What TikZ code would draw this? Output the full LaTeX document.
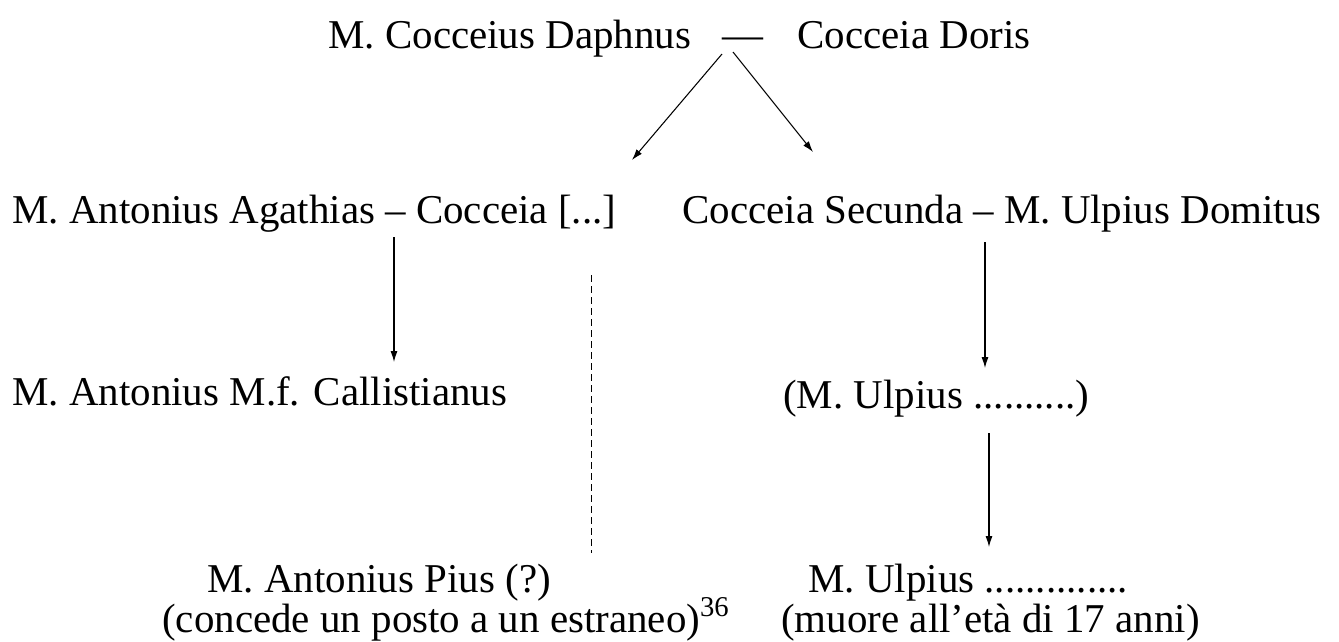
\documentclass[tikz,border=0pt]{standalone}
\usepackage{fontspec}
\setmainfont{Liberation Serif}
\usetikzlibrary{arrows.meta}

\begin{document}
\begin{tikzpicture}[x=0.2mm, y=-0.2mm,
    person/.style={anchor=base west, inner sep=0pt, font=\fontsize{23.3}{27}\selectfont},
    descent/.style={-{Latex[length=2.2mm,width=1.4mm]}, line width=0.6pt},
    uncertain/.style={line width=0.5pt, dash pattern=on 1.3mm off 0.9mm}]
    \useasboundingbox (0,0) rectangle (1339,641);

    % First generation
    \node[person] (daphnus) at (328,48) {M. Cocceius Daphnus};
    \node[person] (wed) at (722,48) {\textemdash};
    \node[person] (doris) at (797,48) {Cocceia Doris};

    % Daughters and husbands
    \node[person] (agathias) at (12,223) {M. Antonius Agathias -- Cocceia [...]};
    \node[person] (secunda) at (682,223) {Cocceia Secunda -- M. Ulpius Domitus};

    % Grandchildren
    \node[person] (callist) at (12,405) {M. Antonius M.f. Callistianus};
    \node[person] (ulpius) at (783,408) {(M. Ulpius ..........)};

    % Last generation
    \node[person] (pius) at (207,592) {M. Antonius Pius (?)};
    \node[person] (piusnote) at (162,632) {(concede un posto a un estraneo)\textsuperscript{36}};
    \node[person] (ulpiusjr) at (808,592) {M. Ulpius ..............};
    \node[person] (ulpiusnote) at (781,632) {(muore all'età di 17 anni)};

    % Arrow ends
    \coordinate (wedL) at (722,54);
    \coordinate (wedR) at (733,52);
    \coordinate (toLeft) at (632,160);
    \coordinate (toRight) at (813,152);
    \coordinate (agaDown) at (394,237);
    \coordinate (callUp) at (394,362);
    \coordinate (secDown) at (985,242);
    \coordinate (ulpUp) at (985,368);
    \coordinate (ulpDown) at (989,433);
    \coordinate (jrUp) at (989,547);
    \coordinate (dashTop) at (591,275);
    \coordinate (dashBot) at (591,553);

    % Descents
    \draw[descent] (wedL) -- (toLeft);
    \draw[descent] (wedR) -- (toRight);
    \draw[descent] (agaDown) -- (callUp);
    \draw[descent] (secDown) -- (ulpUp);
    \draw[descent] (ulpDown) -- (jrUp);
    \draw[uncertain] (dashTop) -- (dashBot);
\end{tikzpicture}
\end{document}
